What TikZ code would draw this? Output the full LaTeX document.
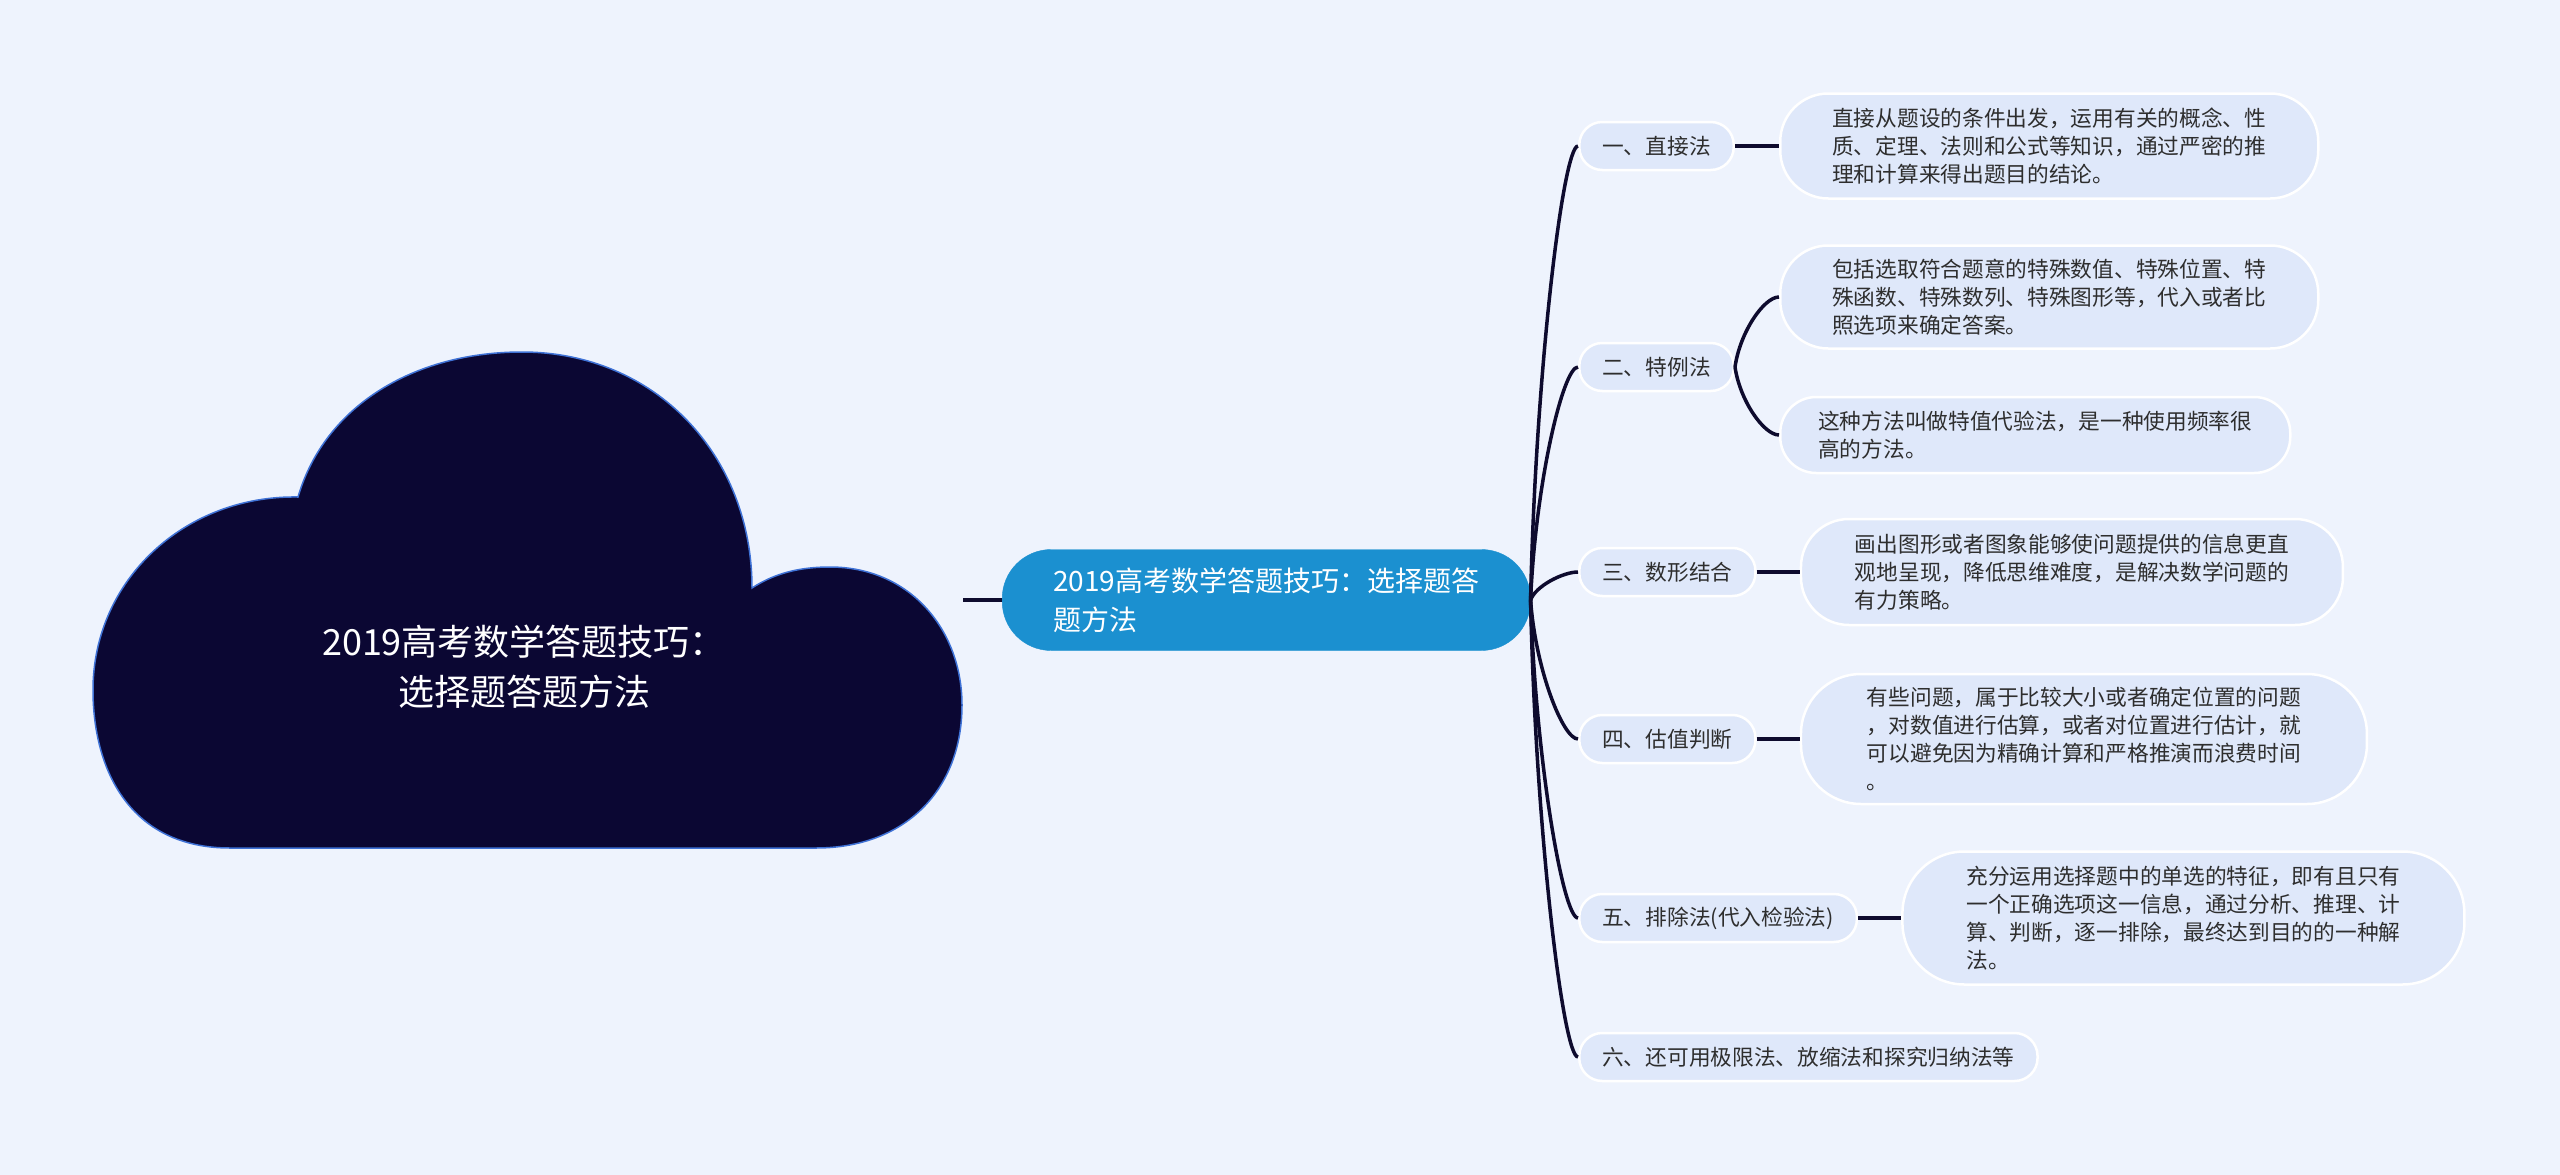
\documentclass[tikz,border=0pt]{standalone}
\usepackage{fontspec}
\setmainfont{Noto Sans CJK SC}
\usetikzlibrary{positioning, calc}

\definecolor{bgblue}{HTML}{EEF3FD}
\definecolor{nodeblue}{HTML}{DFE8FA}
\definecolor{topicblue}{HTML}{1B90D0}
\definecolor{cloudnavy}{HTML}{0B0733}
\definecolor{cloudedge}{HTML}{3F72D6}
\definecolor{linenavy}{HTML}{0E0B2E}
\definecolor{txtgray}{HTML}{2E2E2E}

\begin{document}
\begin{tikzpicture}[
    x=1pt, y=-1pt,
    % Styles
    branch/.style={
        rectangle,
        fill=nodeblue,
        draw=white,
        line width=2.5pt,
        rounded corners=23pt,
        minimum height=48pt,
        inner xsep=23pt,
        inner ysep=0pt,
        text=txtgray,
        font=\fontsize{21.7}{28}\selectfont,
        anchor=west
    },
    leaf/.style={
        rectangle,
        fill=nodeblue,
        draw=white,
        line width=2.5pt,
        rounded corners=48pt,
        inner ysep=0pt,
        align=left,
        text=txtgray,
        font=\fontsize{21.7}{28}\selectfont
    },
    topicbox/.style={
        rectangle,
        fill=topicblue,
        draw=topicblue,
        rounded corners=49pt,
        minimum height=101pt,
        inner xsep=51pt,
        inner ysep=0pt,
        align=left,
        text=white,
        font=\fontsize{28}{39}\selectfont,
        anchor=west
    },
    cloudtext/.style={
        align=center,
        text=white,
        font=\fontsize{36}{50}\selectfont
    },
    link/.style={
        draw=linenavy,
        line width=3.5pt
    },
    fan/.style={
        link,
        to path={.. controls ($(\tikztostart)!0.5!(\tikztostart|-\tikztotarget)+(5,0)$) and ($(\tikztotarget)+(-15,0)$) .. (\tikztotarget)}
    }
]

    % Background
    \fill[bgblue] (0,0) rectangle (2560,1175);
    \useasboundingbox (0,0) rectangle (2560,1175);

    % Cloud
    \draw[fill=cloudnavy, draw=cloudedge, line width=1.5pt]
        (230,848) .. controls (130,848) and (93,770) .. (93,690)
        .. controls (93,580) and (185,495) .. (298,497)
        .. controls (325,405) and (415,352) .. (522,352)
        .. controls (655,352) and (752,455) .. (752,588)
        .. controls (775,573) and (800,567) .. (830,567)
        .. controls (910,567) and (962,630) .. (962,705)
        .. controls (962,790) and (905,848) .. (816,848) -- cycle;
    \node[cloudtext] (title) at (524,667) {2019高考数学答题技巧：\\选择题答题方法};
    \coordinate (cloudR) at (963,600);

    % Nodes
    \node[topicbox] (topic) at (1002,600) {2019高考数学答题技巧：选择题答\\题方法};

    \node[branch] (b1) at (1578,146) {一、直接法};
    \node[branch] (b2) at (1578,367) {二、特例法};
    \node[branch] (b3) at (1578,572) {三、数形结合};
    \node[branch] (b4) at (1578,739) {四、估值判断};
    \node[branch] (b5) at (1578,918) {五、排除法(代入检验法)};
    \node[branch] (b6) at (1578,1057) {六、还可用极限法、放缩法和探究归纳法等};

    \node[leaf, right=44pt of b1, inner xsep=52pt, minimum height=105pt]
        (l1) {直接从题设的条件出发，运用有关的概念、性\\质、定理、法则和公式等知识，通过严密的推\\理和计算来得出题目的结论。};
    \node[leaf, right=44pt of b2, yshift=70pt, inner xsep=52pt, minimum height=103pt]
        (l2a) {包括选取符合题意的特殊数值、特殊位置、特\\殊函数、特殊数列、特殊图形等，代入或者比\\照选项来确定答案。};
    \node[leaf, right=44pt of b2, yshift=-68pt, inner xsep=38pt, minimum height=76pt, rounded corners=36pt]
        (l2b) {这种方法叫做特值代验法，是一种使用频率很\\高的方法。};
    \node[leaf, right=43pt of b3, inner xsep=54pt, minimum height=106pt]
        (l3) {画出图形或者图象能够使问题提供的信息更直\\观地呈现，降低思维难度，是解决数学问题的\\有力策略。};
    \node[leaf, right=43pt of b4, inner xsep=66pt, minimum height=130pt, rounded corners=60pt]
        (l4) {有些问题，属于比较大小或者确定位置的问题\\，对数值进行估算，或者对位置进行估计，就\\可以避免因为精确计算和严格推演而浪费时间\\。};
    \node[leaf, right=43pt of b5, inner xsep=64pt, minimum height=133pt, rounded corners=62pt]
        (l5) {充分运用选择题中的单选的特征，即有且只有\\一个正确选项这一信息，通过分析、推理、计\\算、判断，逐一排除，最终达到目的的一种解\\法。};

    % Paths
    \draw[link] (cloudR) -- (topic.west);
    \foreach \b in {b1, b2, b3, b4, b5, b6}
        \draw[fan] (topic.east) to (\b.west);
    \draw[link] (b1) -- (l1);
    \draw[fan] (b2.east) to (l2a.west);
    \draw[fan] (b2.east) to (l2b.west);
    \draw[link] (b3) -- (l3);
    \draw[link] (b4) -- (l4);
    \draw[link] (b5) -- (l5);
\end{tikzpicture}
\end{document}
